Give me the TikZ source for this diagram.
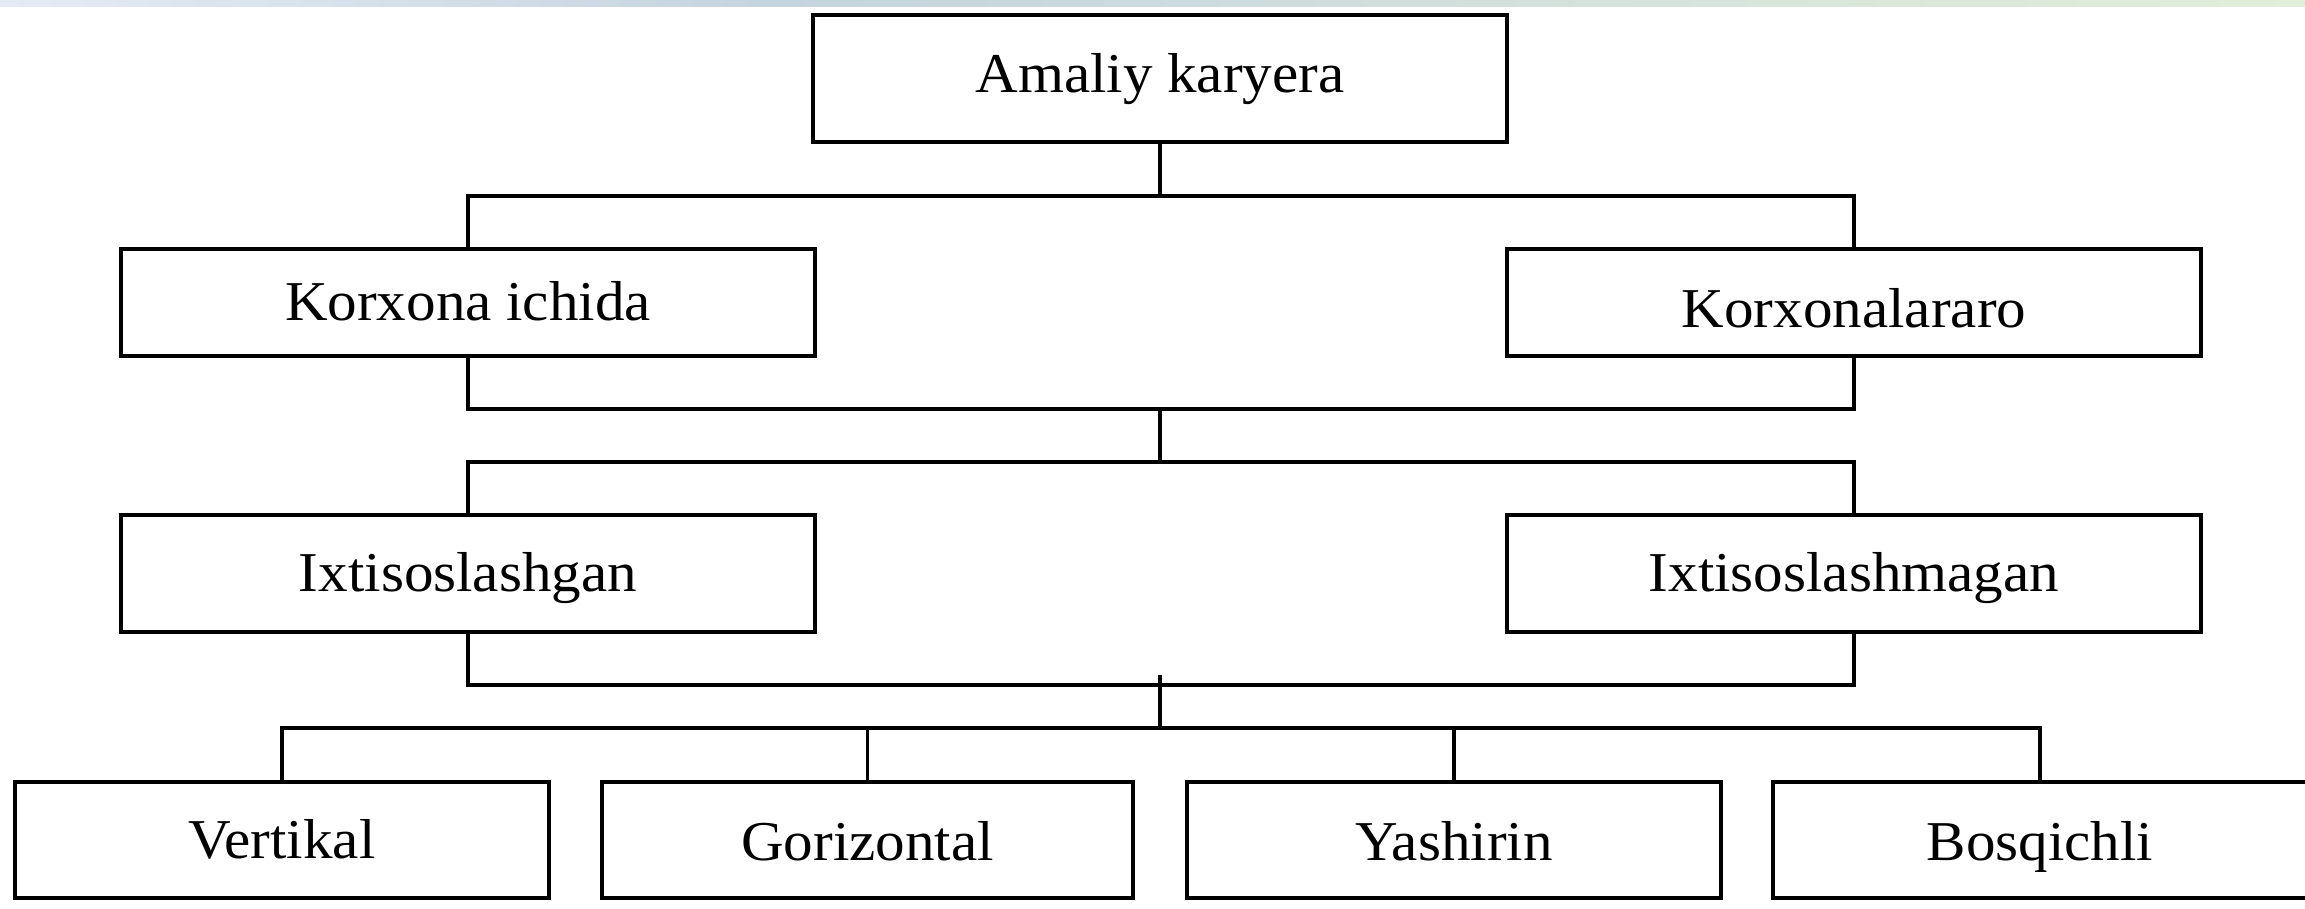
\documentclass[tikz,border=0pt]{standalone}
\usepackage{fontspec}
\setmainfont{Liberation Serif}[FakeStretch=1.05]
\definecolor{bandA}{HTML}{E6EAF6}
\definecolor{bandB}{HTML}{C4D4DE}
\definecolor{bandC}{HTML}{E2EED9}
\tikzset{
  box/.style={draw=black, line width=1.1pt, fill=white, inner sep=0pt,
    font=\fontsize{16}{19}\selectfont, text height=10.5pt, text depth=0pt},
  topbox/.style={box, minimum width=6.93cm, minimum height=1.27cm},
  midbox/.style={box, minimum width=6.93cm},
  lowbox/.style={box, minimum width=5.33cm, minimum height=1.16cm},
  link/.style={draw=black, line width=1pt}
}
\begin{document}
\begin{tikzpicture}[x=0.01cm, y=-0.01cm]
  \useasboundingbox (0,0) rectangle (2305,908);
  % decorative band along the top edge
  \shade[left color=bandA, right color=bandB] (0,0) rectangle (780,6);
  \shade[left color=bandB, right color=bandC] (780,0) rectangle (2305,6);

  % boxes
  \node[topbox, text depth=0.08cm] (amaliy) at (1160,78.5) {Amaliy karyera};
  \node[midbox, minimum height=1.07cm] (ichida) at (468,302.5) {Korxona ichida};
  \node[midbox, minimum height=1.07cm, text height=10.5pt+0.14cm] (arora) at (1854,302.5) {Korxonalararo};
  \node[midbox, minimum height=1.17cm] (ixt) at (468,573.5) {Ixtisoslashgan};
  \node[midbox, minimum height=1.17cm] (ixtm) at (1854,573.5) {Ixtisoslashmagan};
  \node[lowbox] (vert) at (282,840) {Vertikal};
  \node[lowbox, minimum width=5.31cm, text height=10.5pt+0.04cm] (gor) at (867.5,840) {Gorizontal};
  \node[lowbox, text height=10.5pt+0.04cm] (yash) at (1454,840) {Yashirin};
  \node[lowbox, text height=10.5pt+0.04cm] (bosq) at (2040,840) {Bosqichli};

  % junction points of the connector tree
  \coordinate (j1) at (1160,196);
  \coordinate (j2) at (1160,409);
  \coordinate (j3) at (1160,462);
  \coordinate (j4) at (1160,685);
  \coordinate (j4s) at (1160,675);
  \coordinate (j5) at (1160,728);

  % connectors
  \draw[link] (amaliy.south) -- (j1);
  \draw[link] (ichida.north) |- (j1) -| (arora.north);
  \draw[link] (ichida.south) |- (j2) -| (arora.south);
  \draw[link] (j2) -- (j3);
  \draw[link] (ixt.north) |- (j3) -| (ixtm.north);
  \draw[link] (ixt.south) |- (j4) -| (ixtm.south);
  \draw[link] (j4s) -- (j5);
  \draw[link] (vert.north) |- (j5) -| (bosq.north);
  \draw[link] (gor.north) -- (gor.north |- j5);
  \draw[link] (yash.north) -- (yash.north |- j5);
\end{tikzpicture}
\end{document}
